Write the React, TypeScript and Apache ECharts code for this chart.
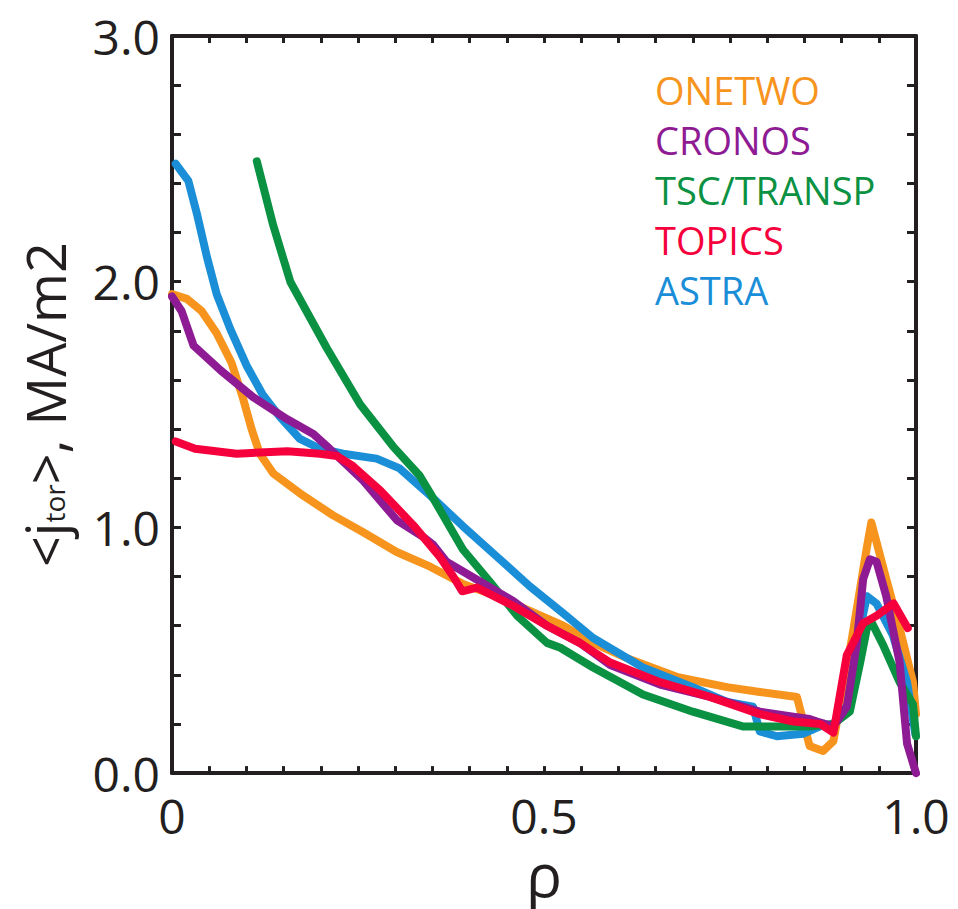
import React, { useEffect, useRef } from "react";
import * as echarts from "echarts";

const FONT = "'Open Sans', 'Noto Sans', sans-serif";
const INK = "#231F20";

// ONETWO
const onetwoRho = [0, 0.02, 0.04, 0.06, 0.08, 0.095, 0.107, 0.118, 0.136, 0.176, 0.216, 0.257, 0.302, 0.347, 0.391, 0.437, 0.481, 0.526, 0.566, 0.61, 0.68, 0.746, 0.79, 0.84, 0.857, 0.875, 0.889, 0.914, 0.934, 0.94, 0.96, 0.978, 0.996, 1.0];
const onetwoJ = [1.95, 1.93, 1.88, 1.79, 1.67, 1.53, 1.4, 1.3, 1.22, 1.13, 1.05, 0.98, 0.9, 0.84, 0.77, 0.72, 0.66, 0.6, 0.53, 0.47, 0.39, 0.35, 0.33, 0.31, 0.11, 0.09, 0.13, 0.55, 0.92, 1.02, 0.79, 0.59, 0.37, 0.24];

// CRONOS
const cronosRho = [0, 0.013, 0.029, 0.065, 0.109, 0.155, 0.19, 0.212, 0.257, 0.302, 0.338, 0.351, 0.369, 0.414, 0.459, 0.504, 0.548, 0.589, 0.656, 0.723, 0.79, 0.835, 0.857, 0.867, 0.889, 0.907, 0.92, 0.929, 0.938, 0.947, 0.96, 0.978, 0.988, 1.0];
const cronosJ = [1.94, 1.88, 1.74, 1.64, 1.53, 1.44, 1.38, 1.32, 1.19, 1.03, 0.96, 0.93, 0.86, 0.78, 0.7, 0.6, 0.53, 0.44, 0.36, 0.31, 0.25, 0.23, 0.22, 0.21, 0.19, 0.27, 0.52, 0.79, 0.87, 0.86, 0.72, 0.45, 0.12, 0.0];

// TSC/TRANSP
const tscRho = [0.114, 0.136, 0.159, 0.208, 0.253, 0.297, 0.333, 0.347, 0.391, 0.427, 0.464, 0.504, 0.522, 0.566, 0.633, 0.7, 0.767, 0.813, 0.857, 0.889, 0.911, 0.925, 0.934, 0.941, 0.956, 0.978, 0.996, 1.0];
const tscJ = [2.49, 2.23, 2.0, 1.73, 1.5, 1.33, 1.21, 1.14, 0.91, 0.78, 0.64, 0.53, 0.51, 0.43, 0.32, 0.25, 0.19, 0.19, 0.19, 0.2, 0.25, 0.45, 0.59, 0.61, 0.52, 0.37, 0.28, 0.15];

// TOPICS
const topicsRho = [0.005, 0.031, 0.087, 0.155, 0.199, 0.222, 0.243, 0.28, 0.324, 0.36, 0.378, 0.39, 0.41, 0.459, 0.504, 0.548, 0.589, 0.656, 0.723, 0.79, 0.835, 0.871, 0.889, 0.907, 0.929, 0.947, 0.97, 0.989];
const topicsJ = [1.35, 1.32, 1.3, 1.31, 1.3, 1.29, 1.25, 1.15, 1.01, 0.88, 0.8, 0.74, 0.755, 0.68, 0.6, 0.53, 0.45, 0.37, 0.31, 0.24, 0.21, 0.2, 0.165, 0.48, 0.61, 0.64, 0.69, 0.59];

// ASTRA
const astraRho = [0.005, 0.022, 0.034, 0.047, 0.06, 0.078, 0.1, 0.122, 0.145, 0.172, 0.199, 0.23, 0.275, 0.306, 0.347, 0.391, 0.437, 0.481, 0.526, 0.566, 0.633, 0.7, 0.746, 0.781, 0.79, 0.813, 0.848, 0.871, 0.889, 0.911, 0.925, 0.934, 0.947, 0.969, 0.988, 0.999];
const astraJ = [2.48, 2.41, 2.27, 2.1, 1.95, 1.81, 1.66, 1.54, 1.45, 1.36, 1.32, 1.3, 1.28, 1.24, 1.13, 1.005, 0.88, 0.76, 0.65, 0.55, 0.43, 0.35, 0.29, 0.27, 0.17, 0.15, 0.16, 0.19, 0.2, 0.29, 0.59, 0.72, 0.69, 0.56, 0.37, 0.16];

const seriesDefs = [
  { name: "ONETWO", color: "#F7941D", rho: onetwoRho, j: onetwoJ },
  { name: "ASTRA", color: "#1B8ED8", rho: astraRho, j: astraJ },
  { name: "TSC/TRANSP", color: "#0A9142", rho: tscRho, j: tscJ },
  { name: "CRONOS", color: "#8E1B93", rho: cronosRho, j: cronosJ },
  { name: "TOPICS", color: "#F5003C", rho: topicsRho, j: topicsJ },
];
const legendOrder = ["ONETWO", "CRONOS", "TSC/TRANSP", "TOPICS", "ASTRA"];

export default function App() {
  const ref = useRef<HTMLDivElement>(null);
  useEffect(() => {
    if (!ref.current) return;
    const chart = echarts.init(ref.current, undefined, { renderer: "svg" });
    const tickStyle = { color: INK, width: 3 };
    const lineStyle = { color: INK, width: 4 };
    const colorOf = (n: string) => seriesDefs.find((s) => s.name === n)!.color;
    chart.setOption({
      animation: false,
      backgroundColor: "#ffffff",
      grid: { left: 172, top: 36, width: 744, height: 743, containLabel: false },
      legend: {
        show: true,
        selectedMode: false,
        orient: "vertical",
        left: 645,
        top: 60,
        itemGap: 0,
        itemWidth: 0,
        itemHeight: 0,
        icon: "rect",
        data: legendOrder.map((n) => ({
          name: n,
          textStyle: { color: colorOf(n) },
        })),
        textStyle: { fontFamily: FONT, fontSize: 38, lineHeight: 50, padding: 0 },
      },
      xAxis: [
        {
          type: "value",
          min: 0,
          max: 1,
          interval: 0.5,
          position: "bottom",
          axisLine: { show: true, onZero: false, lineStyle },
          axisTick: { show: true, inside: true, length: 7, lineStyle: tickStyle },
          minorTick: { show: true, splitNumber: 10, length: 7, lineStyle: tickStyle },
          splitLine: { show: false },
          axisLabel: {
            margin: 18,
            fontSize: 48,
            fontFamily: FONT,
            color: INK,
            lineHeight: 48,
            formatter: (v: number) => (v === 0 ? "0" : v.toFixed(1)),
          },
          name: "ρ",
          nameLocation: "middle",
          nameGap: 72,
          nameTextStyle: { fontSize: 60, fontFamily: FONT, color: INK, lineHeight: 40 },
        },
        {
          type: "value",
          min: 0,
          max: 1,
          interval: 0.5,
          position: "top",
          axisLine: { show: true, onZero: false, lineStyle },
          axisTick: { show: true, inside: true, length: 7, lineStyle: tickStyle },
          minorTick: { show: true, splitNumber: 10, length: 7, lineStyle: tickStyle },
          splitLine: { show: false },
          axisLabel: { show: false },
        },
      ],
      yAxis: [
        {
          type: "value",
          min: 0,
          max: 3,
          interval: 1,
          position: "left",
          axisLine: { show: true, onZero: false, lineStyle },
          axisTick: { show: true, inside: true, length: 9, lineStyle: tickStyle },
          minorTick: { show: true, splitNumber: 5, length: 9, lineStyle: tickStyle },
          splitLine: { show: false },
          axisLabel: {
            margin: 12,
            fontSize: 48,
            fontFamily: FONT,
            color: INK,
            formatter: (v: number) => v.toFixed(1),
          },
          name: "{a|<j}{b|tor}{a|>, MA/m2}",
          nameLocation: "middle",
          nameRotate: 90,
          nameGap: 100,
          nameTextStyle: {
            rich: {
              a: { fontSize: 54, fontFamily: FONT, color: INK, lineHeight: 64, verticalAlign: "bottom" },
              b: { fontSize: 28, fontFamily: FONT, color: INK, lineHeight: 40, verticalAlign: "bottom", padding: [0, 0, 4, 0] },
            },
          },
        },
        {
          type: "value",
          min: 0,
          max: 3,
          interval: 1,
          position: "right",
          axisLine: { show: true, onZero: false, lineStyle },
          axisTick: { show: true, inside: true, length: 9, lineStyle: tickStyle },
          minorTick: { show: true, splitNumber: 5, length: 9, lineStyle: tickStyle },
          splitLine: { show: false },
          axisLabel: { show: false },
        },
      ],
      series: seriesDefs.map((s) => ({
        name: s.name,
        type: "line",
        xAxisIndex: 0,
        yAxisIndex: 0,
        showSymbol: false,
        symbol: "none",
        clip: false,
        color: s.color,
        lineStyle: { color: s.color, width: 8, cap: "round", join: "round" },
        data: s.rho.map((r, i) => [r, s.j[i]]),
      })),
    });
    return () => chart.dispose();
  }, []);
  return (
    <div
      ref={ref}
      style={{ position: "absolute", left: 0, top: 0, width: 958, height: 909 }}
    />
  );
}
